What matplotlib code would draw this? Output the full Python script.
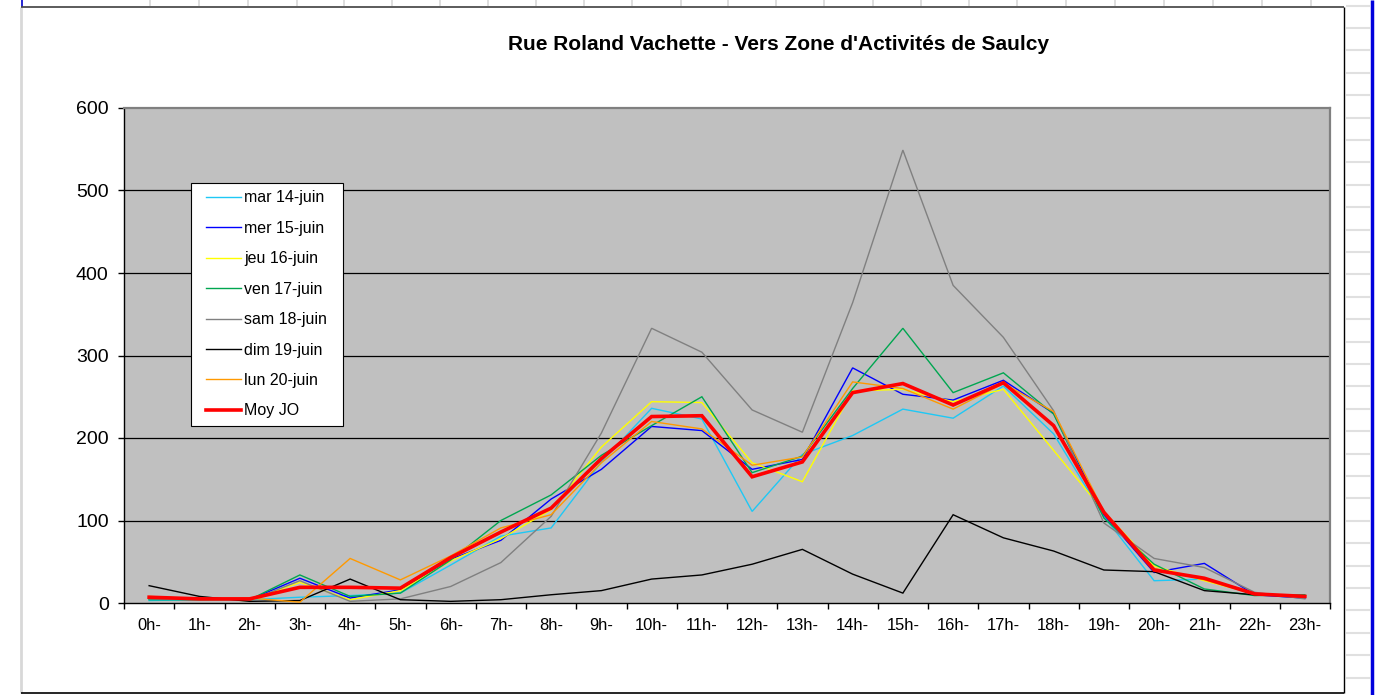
import matplotlib
matplotlib.use("Agg")
import matplotlib.pyplot as plt
import numpy as np
from matplotlib.legend_handler import HandlerLine2D

plt.rcParams['font.family'] = ['Liberation Sans', 'DejaVu Sans']

# ---------------- data ----------------
hours = [f"{h}h-" for h in range(24)]
title = "Rue Roland Vachette - Vers Zone d'Activités de Saulcy"

mar14 = [3, 4, 4, 7, 9, 12, 46, 81, 91, 171, 236, 223, 111, 180, 203, 235, 224, 263, 205, 105, 27, 29, 10, 6]
mer15 = [5, 4, 4, 30, 6, 16, 53, 76, 126, 162, 214, 209, 162, 174, 285, 253, 246, 270, 230, 107, 37, 48, 10, 6]
jeu16 = [5, 4, 3, 25, 4, 15, 51, 78, 113, 189, 244, 243, 170, 147, 257, 259, 244, 259, 185, 111, 45, 27, 11, 8]
ven17 = [4, 4, 4, 34, 8, 12, 52, 100, 131, 179, 215, 250, 158, 178, 260, 333, 255, 279, 229, 103, 47, 17, 9, 10]
sam18 = [5, 4, 3, 27, 2, 5, 20, 49, 105, 206, 333, 304, 234, 207, 364, 549, 385, 322, 233, 97, 54, 43, 13, 5]
dim19 = [21, 8, 2, 3, 29, 4, 2, 4, 10, 15, 29, 34, 47, 65, 35, 12, 107, 79, 63, 40, 38, 15, 10, 8]
lun20 = [8, 5, 6, 1, 54, 28, 57, 91, 107, 170, 220, 211, 167, 177, 268, 260, 235, 266, 232, 111, 42, 28, 11, 8]
moyjo = [7, 5, 5, 19, 19, 18, 55, 86, 115, 175, 226, 227, 153, 171, 255, 266, 240, 267, 215, 110, 40, 30, 11, 8]

series_names = ["mar 14-juin", "mer 15-juin", "jeu 16-juin", "ven 17-juin",
                "sam 18-juin", "dim 19-juin", "lun 20-juin", "Moy JO"]
series_values = [mar14, mer15, jeu16, ven17, sam18, dim19, lun20, moyjo]
series_colors = ["#1EC8F5", "#0000FF", "#FFFF00", "#00A650",
                 "#808080", "#000000", "#FF9900", "#FF0000"]
series_widths = [1.0, 1.0, 1.0, 1.0, 1.0, 1.0, 1.0, 2.6]

yticks = [0, 100, 200, 300, 400, 500, 600]

# ---------------- figure ----------------
W, H = 1389, 695
fig = plt.figure(figsize=(W / 100, H / 100), dpi=100)
fig.patch.set_facecolor("white")

# decoration overlay (spreadsheet background + chart frame), pixel coords
deco = fig.add_axes([0, 0, 1, 1], zorder=-5)
deco.set_xlim(0, W)
deco.set_ylim(H, 0)
deco.axis("off")
cell_x = [150, 199, 248, 297, 344, 392, 440, 488, 536, 584, 632, 681, 728,
          776, 824, 873, 921, 969, 1017, 1066, 1115, 1164, 1213, 1262, 1311]
for cx in cell_x:
    deco.plot([cx, cx], [0, 6], color="#D8D8D8", lw=1.2, solid_capstyle="butt")
deco.plot([22, 22], [0, 6], color="#0000CC", lw=1.2)
k = 0
while 5.6 + 22.4 * k < H:
    yy = 5.6 + 22.4 * k
    deco.plot([1346, 1370], [yy, yy], color="#E0E0E0", lw=1.5, solid_capstyle="butt")
    k += 1
deco.plot([1371.5, 1371.5], [0, H], color="#0000DD", lw=2.5, solid_capstyle="butt")
# chart frame
deco.plot([21, 21], [6.5, 693], color="#D8D8D8", lw=2.0, solid_capstyle="butt")
deco.plot([21, 1344], [6.5, 6.5], color="#404040", lw=1.2, solid_capstyle="butt")
deco.plot([1344, 1344], [6.5, 693], color="#000000", lw=1.0, solid_capstyle="butt")
deco.plot([21, 1344], [693, 693], color="#000000", lw=1.2, solid_capstyle="butt")

# main axes
pl, pr, pt, pb = 124, 1330, 108, 603
ax = fig.add_axes([pl / W, 1 - pb / H, (pr - pl) / W, (pb - pt) / H])
ax.set_facecolor("#C0C0C0")

x = np.arange(len(hours))
for name, vals, col, lw in zip(series_names, series_values, series_colors, series_widths):
    ax.plot(x, vals, color=col, lw=lw, label=name, solid_joinstyle="miter", zorder=3)

ax.set_xlim(-0.5, len(hours) - 0.5)
ax.set_ylim(yticks[0], yticks[-1])
ax.set_yticks(yticks)
ax.set_yticklabels([str(v) for v in yticks])
for v in yticks[1:-1]:
    ax.axhline(v, color="black", lw=0.9, zorder=1)

ax.set_xticks(np.arange(-0.5, len(hours), 1.0))
ax.set_xticklabels([])
ax.set_xticks(x, minor=True)
ax.set_xticklabels(hours, minor=True)
ax.tick_params(axis="x", which="major", direction="out", length=4, width=1, color="black")
ax.tick_params(axis="x", which="minor", length=0, pad=10.5, labelsize=11.9)
ax.tick_params(axis="y", direction="out", length=4, width=1, pad=7, labelsize=14)

for s in ["left", "bottom"]:
    ax.spines[s].set_color("black")
    ax.spines[s].set_linewidth(1.0)
for s in ["top", "right"]:
    ax.spines[s].set_color("#808080")
    ax.spines[s].set_linewidth(1.6)

# legend (box 190.7..343.3 x 182.7..426 px)
fs = 11.5
fspx = fs * 100 / 72
lx0, lx1, ly0, ly1 = 190.7, 343.3, 182.7, 426.0
pad_px = 7.75
leg = ax.legend(loc="upper left",
                bbox_to_anchor=(lx0 / W, 1 - ly1 / H, (lx1 - lx0) / W, (ly1 - ly0) / H),
                bbox_transform=fig.transFigure, mode="expand", borderaxespad=0,
                fontsize=fs, frameon=True, fancybox=False, framealpha=1,
                edgecolor="black", borderpad=pad_px / fspx, labelspacing=0.965,
                handlelength=42.55 / fspx, handletextpad=3 / fspx,
                handler_map={plt.Line2D: HandlerLine2D(xpad=7.55 / fspx)})
leg.get_frame().set_linewidth(0.8)
leg.set_zorder(10)

# title, fitted to width
t = fig.text(779 / W, 1 - 44 / H, title, ha="center", va="center",
             fontsize=13, fontweight="bold")
fig.canvas.draw()
bb = t.get_window_extent()
t.set_fontsize(13 * 540 / bb.width)

fig.savefig("out.png", dpi=100, facecolor="white")
